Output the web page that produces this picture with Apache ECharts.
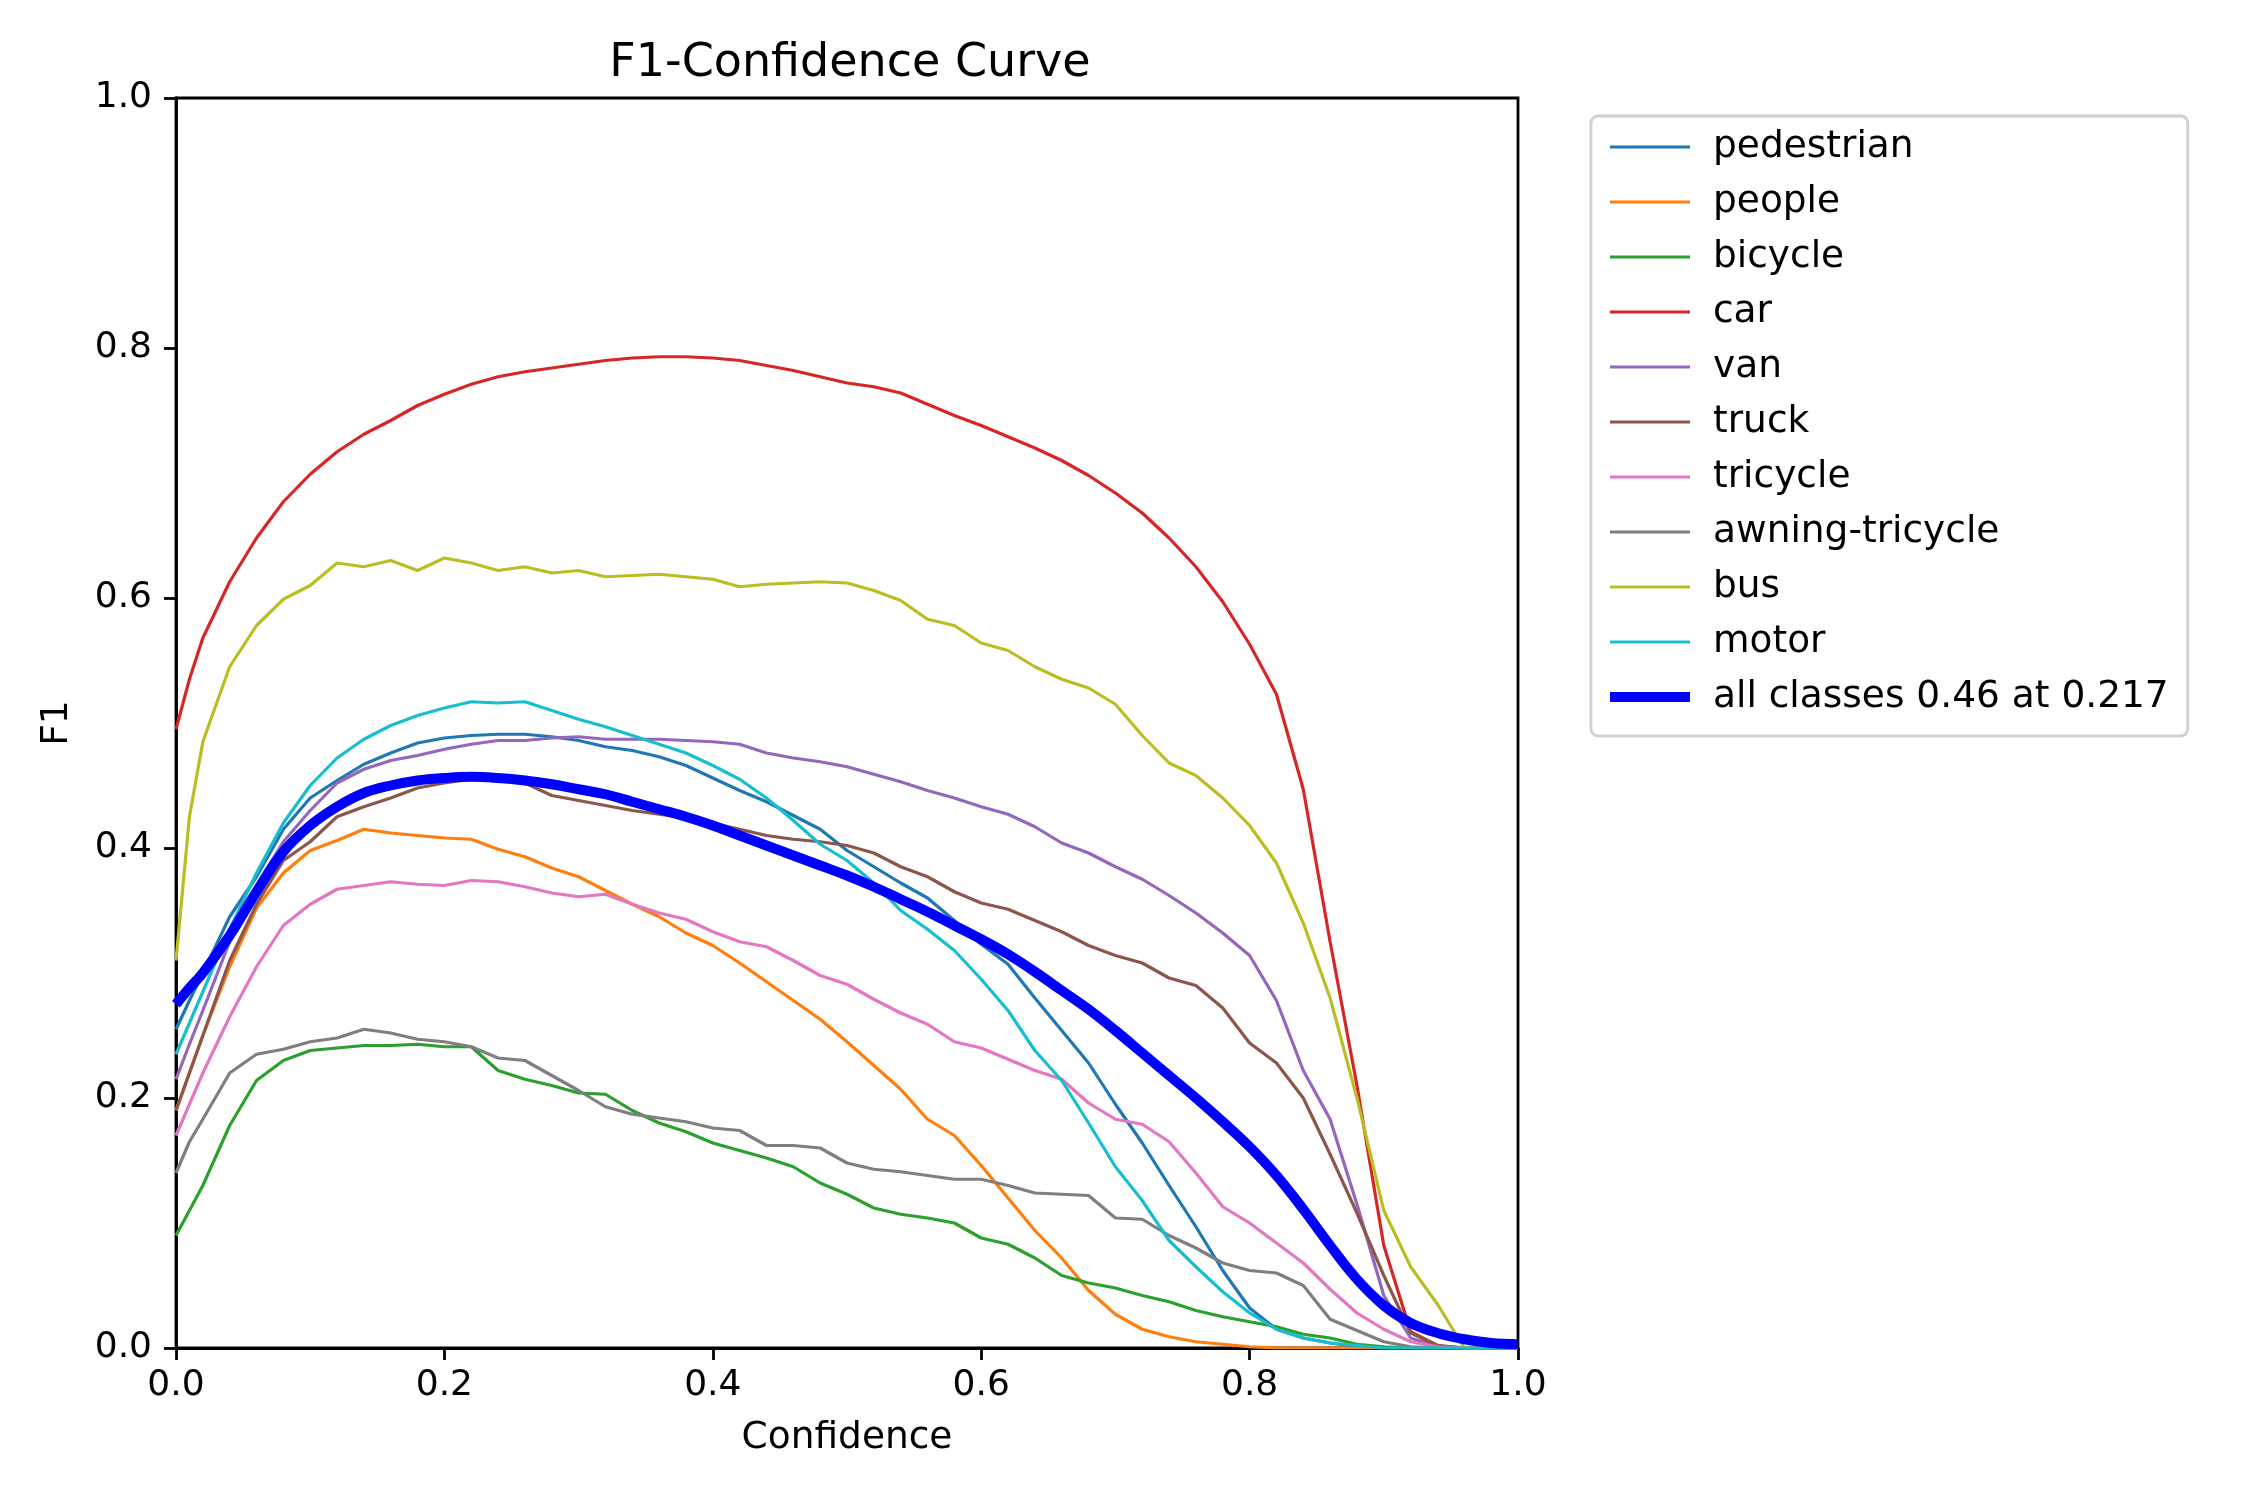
<!DOCTYPE html>
<html>
<head>
<meta charset="utf-8">
<title>F1-Confidence Curve</title>
<script src="https://cdn.jsdelivr.net/npm/echarts@6/dist/echarts.min.js"></script>
<style>
  html, body { margin: 0; padding: 0; background: #fff; }
  #container { width: 2250px; height: 1500px; }
</style>
</head>
<body>
<div id="container"></div>
<script>
// confidence values (x)
var conf = [0, 0.01, 0.02, 0.04, 0.06, 0.08, 0.10, 0.12, 0.14, 0.16, 0.18, 0.20, 0.22, 0.24, 0.26, 0.28,
    0.30, 0.32, 0.34, 0.36, 0.38, 0.40, 0.42, 0.44, 0.46, 0.48, 0.50, 0.52, 0.54, 0.56, 0.58, 0.60,
    0.62, 0.64, 0.66, 0.68, 0.70, 0.72, 0.74, 0.76, 0.78, 0.80, 0.82, 0.84, 0.86, 0.88, 0.90, 0.92,
    0.94, 0.96, 0.98, 1.00];

var pedestrian = [0.255, 0.278, 0.300, 0.345, 0.377, 0.415, 0.440, 0.454, 0.467, 0.476, 0.484, 0.488, 0.490, 0.491, 0.491, 0.489,
    0.486, 0.481, 0.478, 0.473, 0.466, 0.456, 0.446, 0.437, 0.426, 0.415, 0.398, 0.385, 0.372, 0.360, 0.342, 0.323,
    0.307, 0.280, 0.254, 0.228, 0.195, 0.164, 0.130, 0.097, 0.062, 0.032, 0.015, 0.008, 0.004, 0.001, 0, 0,
    0, 0, 0, 0];
var people = [0.19, 0.22, 0.25, 0.305, 0.352, 0.38, 0.398, 0.406, 0.415, 0.412, 0.41, 0.408, 0.407, 0.399, 0.393, 0.384,
    0.377, 0.366, 0.355, 0.345, 0.332, 0.322, 0.308, 0.293, 0.278, 0.263, 0.245, 0.226, 0.207, 0.183, 0.17, 0.146,
    0.12, 0.094, 0.072, 0.046, 0.027, 0.015, 0.009, 0.005, 0.003, 0.001, 0, 0, 0, 0, 0, 0,
    0, 0, 0, 0];
var bicycle = [0.09, 0.11, 0.13, 0.178, 0.214, 0.23, 0.238, 0.24, 0.242, 0.242, 0.243, 0.241, 0.241, 0.222, 0.215, 0.21,
    0.204, 0.203, 0.19, 0.18, 0.173, 0.164, 0.158, 0.152, 0.145, 0.132, 0.123, 0.112, 0.107, 0.104, 0.1, 0.088,
    0.083, 0.072, 0.058, 0.052, 0.048, 0.042, 0.037, 0.03, 0.025, 0.021, 0.017, 0.011, 0.008, 0.003, 0.001, 0,
    0, 0, 0, 0];
var car = [0.495, 0.535, 0.568, 0.613, 0.648, 0.677, 0.699, 0.717, 0.731, 0.742, 0.754, 0.763, 0.771, 0.777, 0.781, 0.784,
    0.787, 0.790, 0.792, 0.793, 0.793, 0.792, 0.790, 0.786, 0.782, 0.777, 0.772, 0.769, 0.764, 0.755, 0.746, 0.738,
    0.729, 0.720, 0.710, 0.698, 0.684, 0.668, 0.648, 0.625, 0.597, 0.563, 0.523, 0.447, 0.325, 0.21, 0.082, 0.013,
    0.002, 0, 0, 0];
var van = [0.215, 0.243, 0.27, 0.325, 0.37, 0.405, 0.43, 0.452, 0.463, 0.47, 0.474, 0.479, 0.483, 0.486, 0.486, 0.488,
    0.489, 0.487, 0.487, 0.487, 0.486, 0.485, 0.483, 0.476, 0.472, 0.469, 0.465, 0.459, 0.453, 0.446, 0.44, 0.433,
    0.427, 0.417, 0.404, 0.396, 0.385, 0.375, 0.362, 0.348, 0.332, 0.314, 0.278, 0.222, 0.183, 0.115, 0.042, 0.008,
    0.001, 0, 0, 0];
var truck = [0.19, 0.22, 0.25, 0.31, 0.355, 0.39, 0.405, 0.425, 0.433, 0.44, 0.448, 0.452, 0.455, 0.456, 0.452, 0.442,
    0.438, 0.434, 0.43, 0.427, 0.424, 0.42, 0.415, 0.41, 0.407, 0.405, 0.402, 0.396, 0.385, 0.377, 0.365, 0.356,
    0.351, 0.342, 0.333, 0.322, 0.314, 0.308, 0.296, 0.29, 0.272, 0.244, 0.228, 0.20, 0.155, 0.108, 0.058, 0.012,
    0.002, 0, 0, 0];
var tricycle = [0.17, 0.195, 0.22, 0.265, 0.305, 0.338, 0.355, 0.367, 0.37, 0.373, 0.371, 0.37, 0.374, 0.373, 0.369, 0.364,
    0.361, 0.363, 0.355, 0.348, 0.343, 0.333, 0.325, 0.321, 0.31, 0.298, 0.291, 0.279, 0.268, 0.259, 0.245, 0.24,
    0.231, 0.222, 0.215, 0.196, 0.183, 0.179, 0.165, 0.14, 0.113, 0.10, 0.084, 0.068, 0.047, 0.028, 0.015, 0.005,
    0.001, 0, 0, 0];
var awningTricycle = [0.14, 0.165, 0.183, 0.22, 0.235, 0.239, 0.245, 0.248, 0.255, 0.252, 0.247, 0.245, 0.241, 0.232, 0.23, 0.218,
    0.206, 0.193, 0.187, 0.184, 0.181, 0.176, 0.174, 0.162, 0.162, 0.16, 0.148, 0.143, 0.141, 0.138, 0.135, 0.135,
    0.13, 0.124, 0.123, 0.122, 0.104, 0.103, 0.09, 0.08, 0.068, 0.062, 0.06, 0.05, 0.023, 0.014, 0.005, 0.001,
    0, 0, 0, 0];
var bus = [0.31, 0.425, 0.485, 0.545, 0.578, 0.599, 0.61, 0.628, 0.625, 0.63, 0.622, 0.632, 0.628, 0.622, 0.625, 0.62,
    0.622, 0.617, 0.618, 0.619, 0.617, 0.615, 0.609, 0.611, 0.612, 0.613, 0.612, 0.606, 0.598, 0.583, 0.578, 0.564,
    0.558, 0.545, 0.535, 0.528, 0.515, 0.49, 0.468, 0.458, 0.44, 0.418, 0.388, 0.34, 0.28, 0.20, 0.11, 0.065,
    0.035, 0, 0, 0];
var motor = [0.235, 0.26, 0.285, 0.335, 0.38, 0.42, 0.45, 0.472, 0.487, 0.498, 0.506, 0.512, 0.517, 0.516, 0.517, 0.51,
    0.503, 0.497, 0.49, 0.483, 0.476, 0.466, 0.455, 0.44, 0.422, 0.403, 0.39, 0.372, 0.35, 0.335, 0.318, 0.295,
    0.27, 0.238, 0.214, 0.18, 0.145, 0.118, 0.086, 0.065, 0.045, 0.028, 0.015, 0.008, 0.004, 0.002, 0, 0,
    0, 0, 0, 0];
var allClasses = [0.275, 0.288, 0.30, 0.33, 0.365, 0.397, 0.418, 0.433, 0.444, 0.45, 0.454, 0.456, 0.457, 0.456, 0.454, 0.451,
    0.447, 0.443, 0.437, 0.431, 0.425, 0.418, 0.410, 0.402, 0.394, 0.386, 0.378, 0.369, 0.359, 0.349, 0.338, 0.327,
    0.315, 0.301, 0.286, 0.271, 0.254, 0.236, 0.218, 0.200, 0.181, 0.161, 0.138, 0.111, 0.082, 0.055, 0.034, 0.020,
    0.012, 0.007, 0.004, 0.003];

var classNames = ['pedestrian', 'people', 'bicycle', 'car', 'van', 'truck', 'tricycle', 'awning-tricycle', 'bus', 'motor'];
var classValues = [pedestrian, people, bicycle, car, van, truck, tricycle, awningTricycle, bus, motor];
var allName = 'all classes 0.46 at 0.217';

// matplotlib tab10
var colors = ['#1f77b4', '#ff7f0e', '#2ca02c', '#d62728', '#9467bd',
              '#8c564b', '#e377c2', '#7f7f7f', '#bcbd22', '#17becf'];

var FONT = 'DejaVu Sans';
var THIN = 3.2, THICK = 10;

function pairs(vals) {
    return conf.map(function (c, i) { return [c, vals[i]]; });
}

var series = classNames.map(function (name, k) {
    return {
        name: name,
        type: 'line',
        data: pairs(classValues[k]),
        symbol: 'none',
        lineStyle: { color: colors[k], width: THIN },
        itemStyle: { color: colors[k] },
        emphasis: { disabled: true }
    };
});
series.push({
    name: allName,
    type: 'line',
    data: pairs(allClasses),
    symbol: 'none',
    smooth: 0.4,
    lineStyle: { color: '#0000ff', width: THICK },
    itemStyle: { color: '#0000ff' },
    emphasis: { disabled: true }
});

// legend entries: plain line samples, the mean curve drawn thick
var legendData = classNames.map(function (n) { return { name: n }; });
legendData.push({ name: allName, lineStyle: { width: THICK } });

function axisCommon() {
    return {
        type: 'value',
        min: 0,
        max: 1,
        interval: 0.2,
        splitLine: { show: false },
        axisLine: { show: true, onZero: false, lineStyle: { color: '#000', width: 2.8 } },
        axisTick: { show: true, inside: false, length: 12, lineStyle: { color: '#000', width: 2.8 } },
        axisLabel: {
            color: '#000', fontFamily: FONT, fontSize: 36,
            formatter: function (v) { return v.toFixed(1); }
        },
        nameLocation: 'middle',
        nameTextStyle: { color: '#000', fontFamily: FONT, fontSize: 37.5 }
    };
}

var xAxis = axisCommon();
xAxis.name = 'Confidence';
xAxis.nameGap = 71;
xAxis.axisLabel.margin = 20;

var yAxis = axisCommon();
yAxis.name = 'F1';
yAxis.nameGap = 100;
yAxis.axisLabel.margin = 24;

var chart = echarts.init(document.getElementById('container'), null, { renderer: 'canvas' });
chart.setOption({
    animation: false,
    backgroundColor: '#fff',
    title: {
        text: 'F1-Confidence Curve',
        left: 845,
        top: 36,
        textAlign: 'center',
        textStyle: { color: '#000', fontFamily: FONT, fontSize: 46, fontWeight: 'normal' }
    },
    grid: {
        left: 176, top: 98, width: 1342, height: 1250,
        show: true, borderColor: '#000', borderWidth: 2.8, backgroundColor: '#fff'
    },
    legend: {
        orient: 'vertical',
        left: 1591,
        top: 116,
        data: legendData,
        itemWidth: 80,
        itemHeight: 35,
        itemGap: 17,
        padding: [12, 19, 20, 14],
        borderColor: '#d0d0d0',
        borderWidth: 2.8,
        borderRadius: 7,
        backgroundColor: 'rgba(255,255,255,0.8)',
        selectedMode: false,
        itemStyle: { opacity: 0 },
        lineStyle: { width: THIN },
        textStyle: { color: '#000', fontFamily: FONT, fontSize: 37.5, padding: [0, 0, 0, 18] }
    },
    xAxis: xAxis,
    yAxis: yAxis,
    series: series
});
</script>
</body>
</html>
